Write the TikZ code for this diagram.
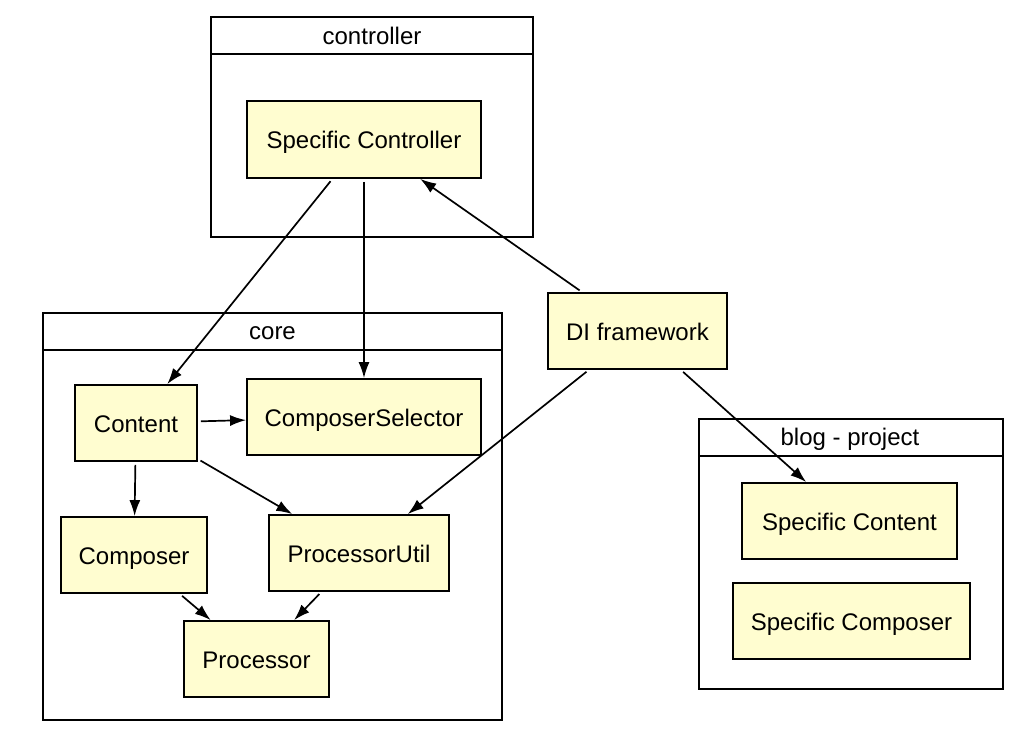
\documentclass[tikz,border=0pt]{standalone}
\usepackage{fontspec}
\setmainfont{Liberation Sans}
\usetikzlibrary{arrows.meta,calc}
\definecolor{boxfill}{RGB}{255,253,208}
\begin{document}
\begin{tikzpicture}[x=1pt,y=-1pt,
  font=\fontsize{24}{28}\selectfont,
  cls/.style={draw,line width=1.8pt,fill=boxfill,inner sep=0pt,rectangle,text height=18.5pt,text depth=0.5pt},
  pkg/.style={draw,line width=1.8pt,inner sep=0pt,rectangle},
  ttl/.style={inner sep=0pt,anchor=base},
  arr/.style={-{Latex[length=16pt,width=11pt]},line width=1.7pt,shorten <=3pt,shorten >=0pt}]
\useasboundingbox (0,0) rectangle (1030,742);
% packages
\node[pkg,minimum width=322,minimum height=220] (pctl) at (372,127) {};
\draw[line width=1.8pt] ($(pctl.north west)+(0,38)$) -- ($(pctl.north east)+(0,38)$);
\node[ttl] (tctl) at (372,44.5) {controller};
\node[pkg,minimum width=459,minimum height=407] (pcore) at (272.5,516.5) {};
\draw[line width=1.8pt] ($(pcore.north west)+(0,38)$) -- ($(pcore.north east)+(0,38)$);
\node[ttl] (tcore) at (272.5,339.5) {core};
\node[pkg,minimum width=304,minimum height=270] (pblog) at (851,554) {};
\draw[line width=1.8pt] ($(pblog.north west)+(0,38)$) -- ($(pblog.north east)+(0,38)$);
\node[ttl] (tblog) at (850,445.5) {blog - project};
% classes
\node[cls,minimum width=234,minimum height=77] (sctl) at (364,139.5) {Specific Controller};
\node[cls,minimum width=122,minimum height=76] (content) at (136,423) {Content};
\node[cls,minimum width=234,minimum height=76] (csel) at (364,417) {ComposerSelector};
\node[cls,minimum width=146,minimum height=76] (composer) at (134,555) {Composer};
\node[cls,minimum width=180,minimum height=76] (putil) at (359,553) {ProcessorUtil};
\node[cls,minimum width=145,minimum height=76] (proc) at (256.5,659) {Processor};
\node[cls,minimum width=179,minimum height=76] (di) at (637.5,331) {DI framework};
\node[cls,minimum width=215,minimum height=76] (scontent) at (849.5,521) {Specific Content};
\node[cls,minimum width=237,minimum height=76] (scomp) at (851.5,621) {Specific Composer};
% connectors
\draw[arr] (sctl) -- (content);
\draw[arr] (sctl) -- (csel);
\draw[arr] (di) -- (sctl);
\draw[arr] (di) -- (putil);
\draw[arr] (di) -- (scontent);
\draw[arr] (content) -- (csel);
\draw[arr] (content) -- (putil);
\draw[arr] (content) -- (composer);
\draw[arr] (composer) -- (proc);
\draw[arr] (putil) -- (proc);
\end{tikzpicture}
\end{document}
